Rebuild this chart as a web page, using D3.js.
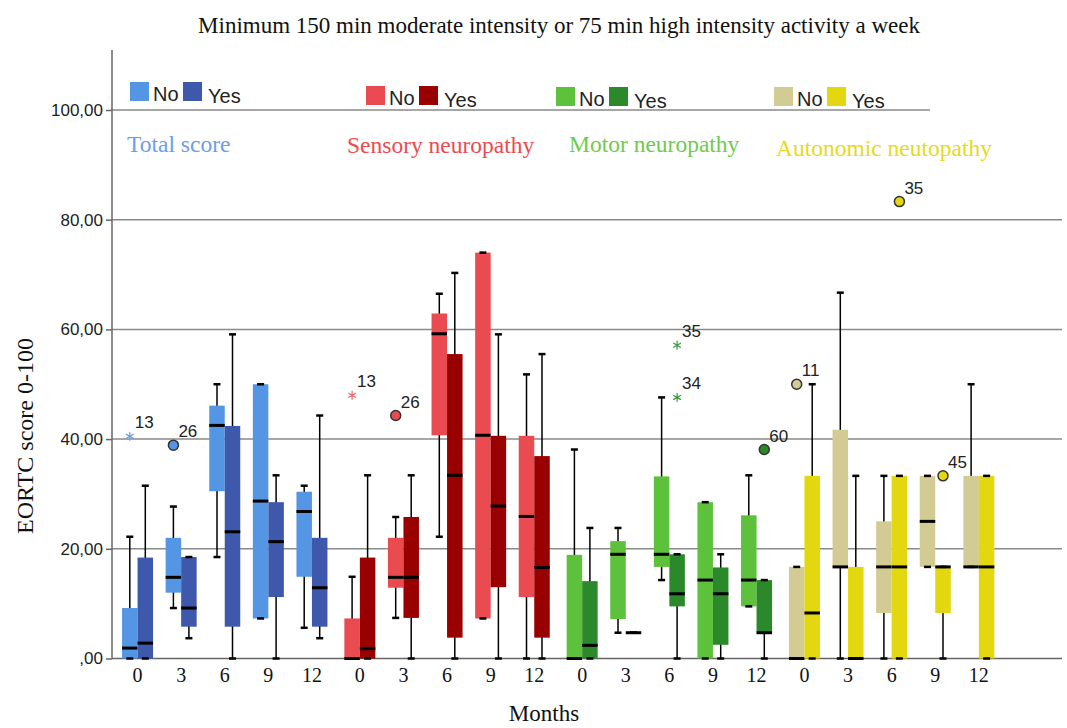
<!DOCTYPE html>
<html>
<head>
<meta charset="utf-8">
<script src="https://cdn.jsdelivr.net/npm/d3@7"></script>
<style>
  body { margin: 0; background: #fff; }
  svg { display: block; }
</style>
</head>
<body>
<div id="chart-container"></div>
<script>
// categories
const groups = ["Total score", "Sensory neuropathy", "Motor neuropathy", "Autonomic neutopathy"];
const months = ["0", "3", "6", "9", "12"];
const series = ["No", "Yes"];

// box stats per month: [lower whisker, Q1, median, Q3, upper whisker]
const totalNo = [[0, 0, 1.9, 9.2, 22.2], [9.2, 12.0, 14.8, 22.0, 27.7], [18.5, 30.5, 42.5, 46.1, 50.0], [7.3, 7.3, 28.7, 50.0, 50.0], [5.6, 14.9, 26.8, 30.4, 31.5]];
const totalYes = [[0, 0, 2.8, 18.4, 31.5], [3.7, 5.8, 9.2, 18.5, 18.5], [0, 5.8, 23.1, 42.4, 59.1], [0, 11.2, 21.3, 28.5, 33.4], [3.7, 5.8, 12.9, 22.0, 44.3]];
const sensoryNo = [[0, 0, 0, 7.3, 14.9], [7.4, 12.9, 14.8, 22.0, 25.8], [22.2, 40.7, 59.2, 62.9, 66.5], [7.3, 7.3, 40.7, 74.0, 74.0], [0, 11.2, 25.9, 40.6, 51.8]];
const sensoryYes = [[0, 0, 1.8, 18.4, 33.4], [0, 7.4, 14.8, 25.8, 33.4], [0, 3.8, 33.4, 55.5, 70.3], [0, 13.0, 27.8, 40.6, 59.1], [0, 3.8, 16.6, 36.9, 55.5]];
const motorNo = [[0, 0, 0, 18.9, 38.1], [4.7, 7.2, 19.0, 21.4, 23.8], [14.3, 16.7, 19.0, 33.2, 47.6], [0, 0, 14.3, 28.5, 28.5], [9.5, 9.5, 14.3, 26.1, 33.4]];
const motorYes = [[0, 0, 2.4, 14.1, 23.8], [4.7, 4.7, 4.7, 4.7, 4.7], [0, 9.5, 11.8, 19.0, 19.0], [0, 2.5, 11.8, 16.6, 19.0], [0, 4.7, 4.7, 14.3, 14.3]];
const autoNo = [[0, 0, 0, 16.7, 16.7], [0, 16.7, 16.7, 41.7, 66.7], [0, 8.3, 16.7, 25.0, 33.3], [16.7, 16.7, 25.0, 33.3, 33.3], [16.7, 16.7, 16.7, 33.3, 50.0]];
const autoYes = [[0, 0, 8.3, 33.3, 50.0], [0, 0, 0, 16.7, 33.3], [0, 0, 16.7, 33.3, 33.3], [0, 8.3, 16.7, 16.7, 16.7], [0, 0, 16.7, 33.3, 33.3]];

// outliers (o = circle, * = extreme)
const outlierGroup = [0, 0, 1, 1, 2, 2, 2, 3, 3, 3];
const outlierMonth = ["0", "3", "0", "3", "6", "6", "12", "0", "6", "9"];
const outlierSeries = ["No", "No", "No", "No", "Yes", "Yes", "Yes", "No", "Yes", "Yes"];
const outlierValue = [40.5, 38.9, 48.0, 44.3, 57.1, 47.6, 38.1, 50.0, 83.3, 33.3];
const outlierCase = ["13", "26", "13", "26", "35", "34", "60", "11", "35", "45"];
const outlierKind = ["*", "o", "*", "o", "*", "*", "o", "o", "o", "o"];

const yTicks = [0, 20, 40, 60, 80, 100];

const stats = [[totalNo, totalYes], [sensoryNo, sensoryYes], [motorNo, motorYes], [autoNo, autoYes]];
const boxColors = [["#5596e4", "#3e58ab"], ["#ea4b50", "#990000"], ["#5ec13c", "#2b892b"], ["#d2cb94", "#e3d80f"]];
const starColors = [["#6a9ee8", "#3e58ab"], ["#f0646a", "#990000"], ["#5ec13c", "#3a9a3a"], ["#d2cb94", "#e3d80f"]];
const labelColors = ["#6a9ee8", "#ec4a4f", "#6dcb4b", "#e6da1b"];

const width = 1067, height = 728;
const serif = "'Liberation Serif', 'Times New Roman', serif";
const sans = "'Liberation Sans', Arial, sans-serif";

const svg = d3.select("#chart-container").append("svg")
    .attr("width", width)
    .attr("height", height);

const x0 = d3.scaleBand().domain(groups).range([113.6, 1002.8]);
const x1 = d3.scaleBand().domain(months).range([2.15, 220.15]);
const boxW = 15.5;
const x2 = d3.scaleBand().domain(series)
    .range([x1.bandwidth() / 2 - boxW, x1.bandwidth() / 2 + boxW]);
const y = d3.scaleLinear().domain([0, 100]).range([658.5, 110]);

const axisX = 112;

// gridlines
svg.append("g").selectAll("line")
    .data(yTicks)
    .join("line")
        .attr("x1", axisX)
        .attr("x2", d => d === 100 ? 930 : 1062)
        .attr("y1", d => y(d))
        .attr("y2", d => y(d))
        .attr("stroke", d => d === 0 ? "#666" : "#8a8a8a")
        .attr("stroke-width", 1.5);

// y axis
svg.append("line")
    .attr("x1", axisX).attr("x2", axisX)
    .attr("y1", 50).attr("y2", y(0))
    .attr("stroke", "#666").attr("stroke-width", 1.5);

const yAxis = svg.append("g")
    .attr("transform", `translate(${axisX},0)`)
    .call(d3.axisLeft(y).tickValues(yTicks).tickSize(6).tickPadding(3)
        .tickFormat(d => d === 0 ? ",00" : d + ",00"));
yAxis.select(".domain").remove();
yAxis.selectAll(".tick line").attr("stroke", "#666").attr("stroke-width", 1.5);
yAxis.selectAll("text").attr("font-family", sans).attr("font-size", 17).attr("fill", "#222");

// month labels under each group
groups.forEach(g => {
    const ax = svg.append("g")
        .attr("transform", `translate(${x0(g)},${y(0)})`)
        .call(d3.axisBottom(x1).tickSize(0).tickPadding(9));
    ax.select(".domain").remove();
    ax.selectAll("text").attr("font-family", serif).attr("font-size", 20).attr("fill", "#111");
});

// boxes
const boxes = [];
groups.forEach((g, gi) => {
    series.forEach((s, si) => {
        stats[gi][si].forEach((v, mi) => {
            boxes.push({
                group: g, gi, series: s, si, month: months[mi],
                lo: v[0], q1: v[1], med: v[2], q3: v[3], hi: v[4]
            });
        });
    });
});

const bx = d => x0(d.group) + x1(d.month) + x2(d.series);
const capW = 7;

const box = svg.append("g").selectAll("g.box")
    .data(boxes)
    .join("g")
        .attr("class", "box")
        .attr("transform", d => `translate(${bx(d)},0)`);

// whisker line
box.append("line")
    .attr("x1", boxW / 2).attr("x2", boxW / 2)
    .attr("y1", d => y(d.hi)).attr("y2", d => y(d.lo))
    .attr("stroke", "#000").attr("stroke-width", 1.5);

box.append("rect")
    .attr("x", 0)
    .attr("width", boxW)
    .attr("y", d => y(d.q3))
    .attr("height", d => y(d.q1) - y(d.q3))
    .attr("fill", d => boxColors[d.gi][d.si]);

// caps
box.selectAll("line.cap")
    .data(d => [d.lo, d.hi])
    .join("line")
        .attr("class", "cap")
        .attr("x1", boxW / 2 - capW / 2).attr("x2", boxW / 2 + capW / 2)
        .attr("y1", d => y(d)).attr("y2", d => y(d))
        .attr("stroke", "#000").attr("stroke-width", 2.5);

// median
box.append("line")
    .attr("x1", 0).attr("x2", boxW)
    .attr("y1", d => y(d.med)).attr("y2", d => y(d.med))
    .attr("stroke", "#000").attr("stroke-width", 3);

// outliers
const outliers = outlierValue.map((v, i) => ({
    gi: outlierGroup[i], group: groups[outlierGroup[i]], month: outlierMonth[i],
    series: outlierSeries[i], si: series.indexOf(outlierSeries[i]),
    value: v, label: outlierCase[i], kind: outlierKind[i]
}));

const ox = d => x0(d.group) + x1(d.month) + x2(d.series) + boxW / 2;

const out = svg.append("g").selectAll("g.out")
    .data(outliers)
    .join("g")
        .attr("class", "out")
        .attr("transform", d => `translate(${ox(d)},${y(d.value)})`);

out.filter(d => d.kind === "o").append("circle")
    .attr("r", 5)
    .attr("fill", d => boxColors[d.gi][d.si])
    .attr("stroke", "#333")
    .attr("stroke-width", 1.5);

out.filter(d => d.kind === "*").append("path")
    .attr("d", d3.symbol(d3.symbolAsterisk, 55))
    .attr("fill", "none")
    .attr("stroke", d => starColors[d.gi][d.si])
    .attr("stroke-width", 1.2);

out.append("text")
    .attr("x", 5)
    .attr("y", -8)
    .attr("font-family", sans)
    .attr("font-size", 17)
    .attr("fill", "#222")
    .text(d => d.label);

// legend + group labels
const legendX = [130, 366, 556, 774];
const legendY = [82, 86, 87, 87];
const groupLabelX = [127, 347, 569, 776];
const groupLabelY = [152, 153, 152, 156];

groups.forEach((g, gi) => {
    const lg = svg.append("g").attr("transform", `translate(${legendX[gi]},${legendY[gi]})`);
    lg.append("rect").attr("x", 0).attr("y", 0).attr("width", 19).attr("height", 19)
        .attr("fill", boxColors[gi][0]);
    lg.append("text").attr("x", 23).attr("y", 19)
        .attr("font-family", sans).attr("font-size", 20).attr("fill", "#222").text("No");
    lg.append("rect").attr("x", 53).attr("y", 0).attr("width", 19).attr("height", 19)
        .attr("fill", boxColors[gi][1]);
    lg.append("text").attr("x", 78).attr("y", 21)
        .attr("font-family", sans).attr("font-size", 20).attr("fill", "#222").text("Yes");

    svg.append("text")
        .attr("x", groupLabelX[gi])
        .attr("y", groupLabelY[gi])
        .attr("font-family", serif)
        .attr("font-size", 23.5)
        .attr("fill", labelColors[gi])
        .text(g);
});

// titles
svg.append("text")
    .attr("x", 559).attr("y", 33)
    .attr("text-anchor", "middle")
    .attr("font-family", serif).attr("font-size", 23).attr("fill", "#111")
    .text("Minimum 150 min moderate intensity or 75 min high intensity activity a week");

svg.append("text")
    .attr("transform", "translate(33,436) rotate(-90)")
    .attr("text-anchor", "middle")
    .attr("font-family", serif).attr("font-size", 24).attr("fill", "#111")
    .text("EORTC score 0-100");

svg.append("text")
    .attr("x", 544).attr("y", 721)
    .attr("text-anchor", "middle")
    .attr("font-family", serif).attr("font-size", 23).attr("fill", "#111")
    .text("Months");
</script>
</body>
</html>
